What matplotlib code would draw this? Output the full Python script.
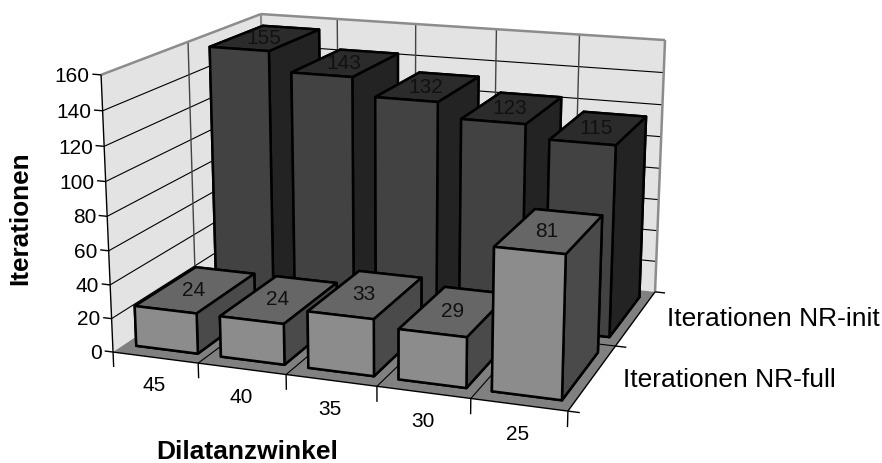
import numpy as np
import matplotlib
matplotlib.use("Agg")
import matplotlib.pyplot as plt
from mpl_toolkits.mplot3d.art3d import Poly3DCollection, Line3DCollection

plt.rcParams["font.family"] = ["Liberation Sans", "DejaVu Sans"]

# data
angles = ["45", "40", "35", "30", "25"]
nr_full = [24, 24, 33, 29, 81]
nr_init = [155, 143, 132, 123, 115]
z_ticks = [0, 20, 40, 60, 80, 100, 120, 140, 160]
series_names = ["Iterationen NR-full", "Iterationen NR-init"]

W, H = 882, 464

# Excel 3D box corners (x, y, z) -> picture pixels, used to fit the camera
CALIB = [
    ((0, 0, 0), (113, 353)),
    ((0, 0, 160), (101, 76)),
    ((5, 0, 0), (568, 412)),
    ((0, 2, 160), (261, 15)),
    ((5, 2, 0), (655, 293)),
    ((5, 2, 160), (665, 41)),
]


def fit_camera(calib):
    rows = []
    for (x, y, z), (px, py) in calib:
        py = H - py
        rows.append([x, y, z, 1, 0, 0, 0, 0, -px * x, -px * y, -px * z, -px])
        rows.append([0, 0, 0, 0, x, y, z, 1, -py * x, -py * y, -py * z, -py])
    _, _, vt = np.linalg.svd(np.array(rows, dtype=float))
    P = vt[-1].reshape(3, 4)
    P = P / (P[2] @ np.array([2.5, 1, 80, 1]))
    return P


P = fit_camera(CALIB)

fig = plt.figure(figsize=(W / 100, H / 100), dpi=100)
ax = fig.add_axes([0, -0.45, 1, 1.9], projection="3d", computed_zorder=False)
ax.set_axis_off()


def get_proj():
    A = ax.transData.inverted().get_matrix()
    Q = A @ P
    M = np.vstack([Q[0], Q[1], Q[2] - np.array([0, 0, 0, 0.5]), Q[2]])
    return M


ax.apply_aspect()
ax.get_proj = get_proj


def face(verts, color, z):
    ax.add_collection3d(Poly3DCollection([verts], facecolors=color, edgecolors="none", zorder=z))


def lines(segments, color="black", lw=0.8, z=1):
    ax.add_collection3d(Line3DCollection(segments, colors=color, linewidths=lw, zorder=z))


def label(x, y, z, s, **kw):
    # text in the figure, placed at the projected 3D point
    u, v, w = P @ np.array([x, y, z, 1.0])
    fig.text(u / w / W, v / w / H, s, va="center", **kw)


# walls and floor
face([(0, 0, 0), (0, 2, 0), (0, 2, 160), (0, 0, 160)], "#e3e3e3", 0)
face([(0, 2, 0), (5, 2, 0), (5, 2, 160), (0, 2, 160)], "#e3e3e3", 0)
face([(0, 0, 0), (5, 0, 0), (5, 2, 0), (0, 2, 0)], "#808080", 0)

# gridlines
lines([[(0, 0, v), (0, 2, v)] for v in z_ticks[1:-1]])
lines([[(0, 2, v), (5, 2, v)] for v in z_ticks[1:-1]])
lines([[(i, 2, 0), (i, 2, 160)] for i in range(1, 5)], color="#444444", lw=1.0)
lines([[(0, 1, 0), (0, 1, 160)]], color="#444444", lw=1.0)
lines([[(i, 0, 0), (i, 2, 0)] for i in range(1, 5)])
lines([[(0, 1, 0), (5, 1, 0)]])

# wall outline
lines([[(0, 0, 160), (0, 2, 160)], [(0, 2, 160), (5, 2, 160)], [(5, 2, 160), (5, 2, 0)]],
      color="#8c8c8c", lw=1.8, z=2)
lines([[(0, 2, 0), (0, 2, 160)]], color="#8c8c8c", lw=1.5)

# axis lines and ticks
lines([[(0, 0, 0), (0, 0, 160)], [(0, 0, 0), (5, 0, 0)], [(5, 0, 0), (5, 2, 0)]], lw=1.0, z=3)
lines([[(-0.1, 0, v), (0, 0, v)] for v in z_ticks], lw=1.0, z=3)
lines([[(i, 0, 0), (i, 0, -9)] for i in range(6)], lw=1.0, z=3)
lines([[(5, j, 0), (5.12, j, 0)] for j in range(3)], lw=1.0, z=3)

for v in z_ticks:
    label(-0.13, 0, v - 1, str(v), ha="right", fontsize=15, color="black")

for i, name in enumerate(angles):
    label(0.86 + 0.96 * i, -0.36, 0, name, ha="center", fontsize=15, color="black")

label(5.32, 0.5, 1, series_names[0], ha="left", fontsize=19, color="black")
label(5.35, 1.5, 2, series_names[1], ha="left", fontsize=19, color="black")

# bars, far row first, left to right inside a row
BAR_X, BAR_W = 0.14, 0.73
FRONT_Y, BACK_Y, BAR_D = 0.13, 1.13, 0.74
# bottom, top, front, back, left, right
front_colors = ["#808080", "#666666", "#8c8c8c", "#8c8c8c", "#4a4a4a", "#4a4a4a"]
back_colors = ["#808080", "#2b2b2b", "#424242", "#424242", "#232323", "#232323"]

order = 10
for values, y0, colors in [(nr_init, BACK_Y, back_colors), (nr_full, FRONT_Y, front_colors)]:
    for i, v in enumerate(values):
        bars = ax.bar3d(i + BAR_X, y0, 0, BAR_W, BAR_D, v, color=colors, shade=False,
                        edgecolor="black", linewidth=1.8)
        bars.set_zorder(order)
        label(i + 0.475, y0 + BAR_D / 2, v, str(v), ha="center", fontsize=15, color="#111111")
        order += 2

fig.text(20 / W, 1 - 218 / H, "Iterationen", rotation=90, ha="center", va="center",
         fontsize=18.8, fontweight="bold")
fig.text(247 / W, 1 - 452 / H, "Dilatanzwinkel", ha="center", va="center",
         fontsize=19, fontweight="bold")

fig.savefig("out.png", dpi=100)
